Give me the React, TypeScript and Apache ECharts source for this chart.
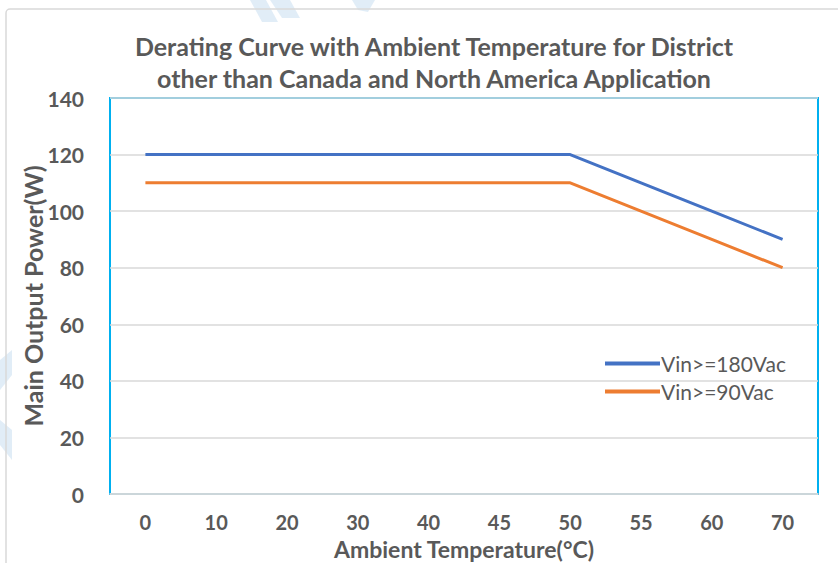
import React, { useEffect, useRef } from "react";
import * as echarts from "echarts";

const categories = ["0", "10", "20", "30", "40", "45", "50", "55", "60", "70"];
const vin180 = [120, 120, 120, 120, 120, 120, 120, 110, 100, 90];
const vin90 = [110, 110, 110, 110, 110, 110, 110, 100, 90, 80];
const seriesNames = ["Vin>=180Vac", "Vin>=90Vac"];

const FONT = "Lato, 'Open Sans', sans-serif";
const GRAY = "#595959";

export default function App() {
  const ref = useRef<HTMLDivElement>(null);
  useEffect(() => {
    if (!ref.current) return;
    const chart = echarts.init(ref.current, undefined, { renderer: "svg" });
    chart.setOption({
      animation: false,
      backgroundColor: "#ffffff",
      graphic: [
        { type: "polygon", z: -10, shape: { points: [[250, 0], [266, 0], [278, 22], [262, 22]] }, style: { fill: "rgba(189,215,238,0.45)" } },
        { type: "polygon", z: -10, shape: { points: [[270, 0], [290, 0], [300, 18], [282, 18]] }, style: { fill: "rgba(189,215,238,0.45)" } },
        { type: "polygon", z: -10, shape: { points: [[352, 0], [375, 0], [368, 12], [358, 10]] }, style: { fill: "rgba(189,215,238,0.45)" } },
        { type: "polygon", z: -10, shape: { points: [[0, 360], [12, 350], [12, 375], [0, 390]] }, style: { fill: "rgba(189,215,238,0.45)" } },
        { type: "polygon", z: -10, shape: { points: [[0, 420], [12, 430], [12, 460], [0, 445]] }, style: { fill: "rgba(189,215,238,0.45)" } },
        {
          type: "rect",
          z: -5,
          shape: { x: 6, y: 9, width: 840, height: 570, r: 4 },
          style: { fill: "none", stroke: "#D9D9D9", lineWidth: 1.5 },
        },
      ],
      title: {
        text: "Derating Curve with Ambient Temperature for District\nother than Canada and North America Application",
        left: 429,
        top: 25,
        textAlign: "center",
        textStyle: {
          fontFamily: FONT,
          fontWeight: "bold",
          fontSize: 25,
          color: GRAY,
          lineHeight: 32,
        },
      },
      legend: {
        orient: "vertical",
        left: 600,
        top: 348,
        itemWidth: 55,
        itemHeight: 4,
        itemGap: 7,
        icon: "rect",
        data: seriesNames,
        textStyle: { fontFamily: FONT, fontSize: 21, color: GRAY, padding: [0, 0, 0, -4] },
      },
      grid: {
        left: 110,
        right: 20,
        top: 98,
        bottom: 69,
        show: true,
        borderColor: "#00B0F0",
        borderWidth: 2,
        containLabel: false,
        outerBoundsMode: "none",
      },
      xAxis: {
        type: "category",
        data: categories,
        boundaryGap: true,
        axisTick: { show: false },
        axisLine: { lineStyle: { color: "#D9D9D9", width: 1.5 } },
        axisLabel: {
          fontFamily: FONT,
          fontWeight: "bold",
          fontSize: 20,
          color: GRAY,
          margin: 18,
        },
        name: "Ambient Temperature(°C)",
        nameLocation: "middle",
        nameGap: 43,
        nameMoveOverlap: false,
        nameTextStyle: { fontFamily: FONT, fontWeight: "bold", fontSize: 23, color: GRAY },
      },
      yAxis: {
        type: "value",
        min: 0,
        max: 140,
        interval: 20,
        axisLine: { show: false },
        axisTick: { show: false },
        splitLine: { lineStyle: { color: "#D9D9D9", width: 1.5 } },
        axisLabel: {
          fontFamily: FONT,
          fontWeight: "bold",
          fontSize: 21,
          color: GRAY,
          margin: 26,
        },
        name: "Main Output Power(W)",
        nameLocation: "middle",
        nameGap: 65,
        nameMoveOverlap: false,
        nameTextStyle: { fontFamily: FONT, fontWeight: "bold", fontSize: 25, color: GRAY },
      },
      series: [
        {
          name: seriesNames[0],
          type: "line",
          data: vin180,
          symbol: "none",
          lineStyle: { color: "#4472C4", width: 3 },
          itemStyle: { color: "#4472C4" },
        },
        {
          name: seriesNames[1],
          type: "line",
          data: vin90,
          symbol: "none",
          lineStyle: { color: "#ED7D31", width: 3 },
          itemStyle: { color: "#ED7D31" },
        },
      ],
    });
    return () => chart.dispose();
  }, []);
  return <div ref={ref} style={{ width: 838, height: 563, position: "absolute", left: 0, top: 0 }} />;
}
